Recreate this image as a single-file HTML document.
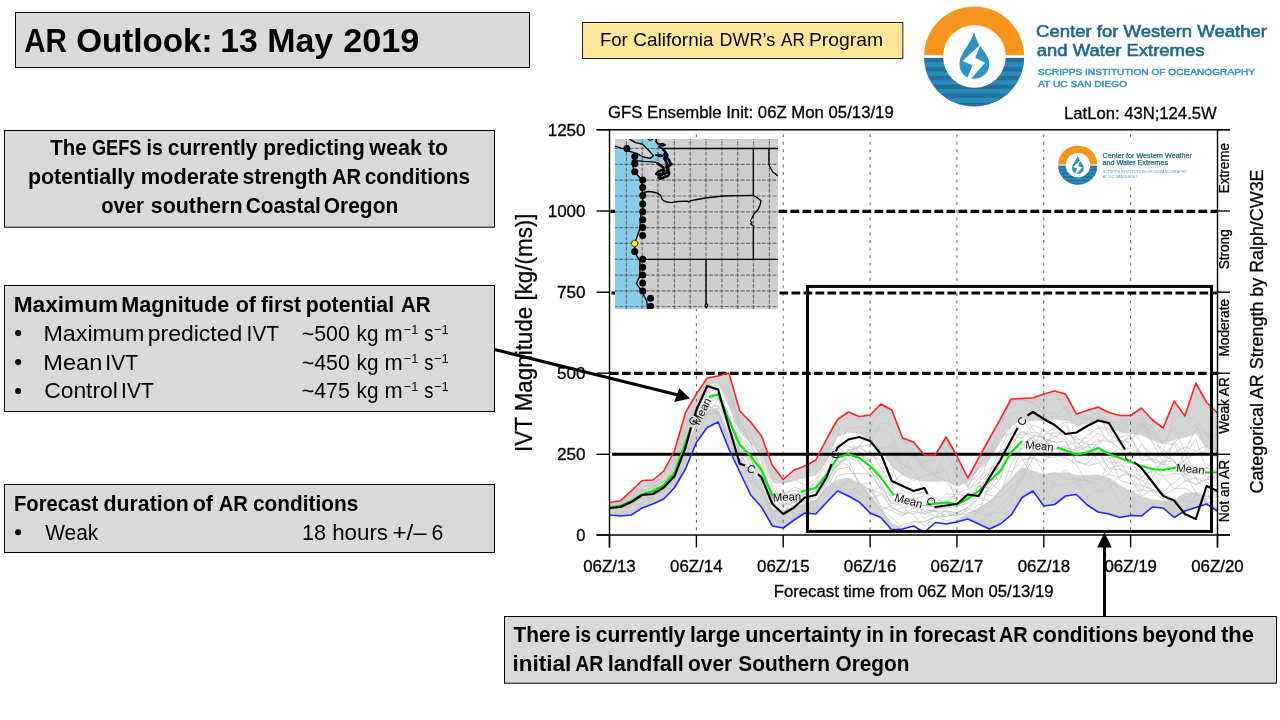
<!DOCTYPE html>
<html><head><meta charset="utf-8"><title>AR Outlook: 13 May 2019</title>
<style>
html,body{margin:0;padding:0;background:#fff;}
body{width:1280px;height:720px;overflow:hidden;font-family:"Liberation Sans",sans-serif;}
svg{display:block;position:absolute;left:0;top:0;will-change:transform;}
text{font-family:"Liberation Sans",sans-serif;}
.b{font-weight:bold;}
.box{fill:#d9d9d9;stroke:#000;stroke-width:1;}
</style></head><body>
<svg width="1280" height="720" viewBox="0 0 1280 720">
<rect width="1280" height="720" fill="#fff"/>

<!-- ======== slide boxes ======== -->
<rect class="box" x="15.5" y="12.5" width="514" height="55"/>
<text x="24.22" y="51.90" font-size="33.2" font-weight="bold" textLength="42.81" lengthAdjust="spacingAndGlyphs">AR</text><text x="76.21" y="51.90" font-size="33.2" font-weight="bold" textLength="136.39" lengthAdjust="spacingAndGlyphs">Outlook:</text><text x="220.29" y="51.90" font-size="33.2" font-weight="bold" textLength="37.57" lengthAdjust="spacingAndGlyphs">13</text><text x="267.17" y="51.90" font-size="33.2" font-weight="bold" textLength="66.09" lengthAdjust="spacingAndGlyphs">May</text><text x="343.21" y="51.90" font-size="33.2" font-weight="bold" textLength="76.08" lengthAdjust="spacingAndGlyphs">2019</text>
<rect x="582.5" y="22.5" width="320.3" height="36" fill="#ffe699" stroke="#222" stroke-width="1"/>
<text x="599.90" y="46.40" font-size="17.9" textLength="27.86" lengthAdjust="spacingAndGlyphs">For</text><text x="633.24" y="46.40" font-size="17.9" textLength="80.26" lengthAdjust="spacingAndGlyphs">California</text><text x="719.44" y="46.40" font-size="17.9" textLength="55.84" lengthAdjust="spacingAndGlyphs">DWR’s</text><text x="780.99" y="46.40" font-size="17.9" textLength="23.80" lengthAdjust="spacingAndGlyphs">AR</text><text x="808.94" y="46.40" font-size="17.9" textLength="74.11" lengthAdjust="spacingAndGlyphs">Program</text>
<rect class="box" x="4.5" y="130.5" width="490" height="96.7"/>
<text x="50.25" y="155.40" font-size="21.3" font-weight="bold" textLength="36.27" lengthAdjust="spacingAndGlyphs">The</text><text x="91.98" y="155.40" font-size="21.3" font-weight="bold" textLength="49.29" lengthAdjust="spacingAndGlyphs">GEFS</text><text x="146.59" y="155.40" font-size="21.3" font-weight="bold" textLength="16.25" lengthAdjust="spacingAndGlyphs">is</text><text x="167.74" y="155.40" font-size="21.3" font-weight="bold" textLength="89.76" lengthAdjust="spacingAndGlyphs">currently</text><text x="263.21" y="155.40" font-size="21.3" font-weight="bold" textLength="101.58" lengthAdjust="spacingAndGlyphs">predicting</text><text x="369.25" y="155.40" font-size="21.3" font-weight="bold" textLength="52.75" lengthAdjust="spacingAndGlyphs">weak</text><text x="427.99" y="155.40" font-size="21.3" font-weight="bold" textLength="20.05" lengthAdjust="spacingAndGlyphs">to</text><text x="27.98" y="184.30" font-size="21.3" font-weight="bold" textLength="107.02" lengthAdjust="spacingAndGlyphs">potentially</text><text x="140.72" y="184.30" font-size="21.3" font-weight="bold" textLength="98.05" lengthAdjust="spacingAndGlyphs">moderate</text><text x="242.48" y="184.30" font-size="21.3" font-weight="bold" textLength="85.05" lengthAdjust="spacingAndGlyphs">strength</text><text x="331.98" y="184.30" font-size="21.3" font-weight="bold" textLength="29.04" lengthAdjust="spacingAndGlyphs">AR</text><text x="364.73" y="184.30" font-size="21.3" font-weight="bold" textLength="105.28" lengthAdjust="spacingAndGlyphs">conditions</text><text x="101.23" y="213.10" font-size="21.3" font-weight="bold" textLength="42.78" lengthAdjust="spacingAndGlyphs">over</text><text x="150.73" y="213.10" font-size="21.3" font-weight="bold" textLength="91.80" lengthAdjust="spacingAndGlyphs">southern</text><text x="245.73" y="213.10" font-size="21.3" font-weight="bold" textLength="75.07" lengthAdjust="spacingAndGlyphs">Coastal</text><text x="323.72" y="213.10" font-size="21.3" font-weight="bold" textLength="74.57" lengthAdjust="spacingAndGlyphs">Oregon</text>
<rect class="box" x="4.5" y="285.5" width="490" height="126"/>
<text x="13.71" y="311.60" font-size="21.3" font-weight="bold" textLength="104.58" lengthAdjust="spacingAndGlyphs">Maximum</text><text x="121.22" y="311.60" font-size="21.3" font-weight="bold" textLength="108.04" lengthAdjust="spacingAndGlyphs">Magnitude</text><text x="235.72" y="311.60" font-size="21.3" font-weight="bold" textLength="20.27" lengthAdjust="spacingAndGlyphs">of</text><text x="260.99" y="311.60" font-size="21.3" font-weight="bold" textLength="40.01" lengthAdjust="spacingAndGlyphs">first</text><text x="305.71" y="311.60" font-size="21.3" font-weight="bold" textLength="88.33" lengthAdjust="spacingAndGlyphs">potential</text><text x="400.98" y="311.60" font-size="21.3" font-weight="bold" textLength="29.79" lengthAdjust="spacingAndGlyphs">AR</text><circle cx="18.15" cy="333.10" r="3.05" fill="#000"/><text x="43.43" y="340.50" font-size="21.3" textLength="100.87" lengthAdjust="spacingAndGlyphs">Maximum</text><text x="147.71" y="340.50" font-size="21.3" textLength="94.59" lengthAdjust="spacingAndGlyphs">predicted</text><text x="246.60" y="340.50" font-size="21.3" textLength="32.43" lengthAdjust="spacingAndGlyphs">IVT</text><circle cx="18.15" cy="362.10" r="3.05" fill="#000"/><text x="43.38" y="369.50" font-size="21.3" textLength="58.97" lengthAdjust="spacingAndGlyphs">Mean</text><text x="105.36" y="369.50" font-size="21.3" textLength="32.68" lengthAdjust="spacingAndGlyphs">IVT</text><circle cx="18.15" cy="391.00" r="3.05" fill="#000"/><text x="44.21" y="398.40" font-size="21.3" textLength="73.60" lengthAdjust="spacingAndGlyphs">Control</text><text x="121.11" y="398.40" font-size="21.3" textLength="32.68" lengthAdjust="spacingAndGlyphs">IVT</text><text x="301.72" y="340.50" font-size="21.3" textLength="48.06" lengthAdjust="spacingAndGlyphs">~500</text><text x="356.56" y="340.50" font-size="21.3" textLength="21.88" lengthAdjust="spacingAndGlyphs">kg</text><text x="384.53" y="340.50" font-size="21.3" textLength="18.19" lengthAdjust="spacingAndGlyphs">m</text><text x="403.70" y="333.50" font-size="13.0" textLength="14.61" lengthAdjust="spacingAndGlyphs">−1</text><text x="424.16" y="340.50" font-size="21.3" textLength="9.20" lengthAdjust="spacingAndGlyphs">s</text><text x="433.94" y="333.50" font-size="13.0" textLength="14.85" lengthAdjust="spacingAndGlyphs">−1</text><text x="301.72" y="369.50" font-size="21.3" textLength="48.06" lengthAdjust="spacingAndGlyphs">~450</text><text x="356.56" y="369.50" font-size="21.3" textLength="21.88" lengthAdjust="spacingAndGlyphs">kg</text><text x="384.53" y="369.50" font-size="21.3" textLength="18.19" lengthAdjust="spacingAndGlyphs">m</text><text x="403.70" y="362.50" font-size="13.0" textLength="14.61" lengthAdjust="spacingAndGlyphs">−1</text><text x="424.16" y="369.50" font-size="21.3" textLength="9.20" lengthAdjust="spacingAndGlyphs">s</text><text x="433.94" y="362.50" font-size="13.0" textLength="14.85" lengthAdjust="spacingAndGlyphs">−1</text><text x="301.72" y="398.40" font-size="21.3" textLength="48.06" lengthAdjust="spacingAndGlyphs">~475</text><text x="356.56" y="398.40" font-size="21.3" textLength="21.88" lengthAdjust="spacingAndGlyphs">kg</text><text x="384.53" y="398.40" font-size="21.3" textLength="18.19" lengthAdjust="spacingAndGlyphs">m</text><text x="403.70" y="391.40" font-size="13.0" textLength="14.61" lengthAdjust="spacingAndGlyphs">−1</text><text x="424.16" y="398.40" font-size="21.3" textLength="9.20" lengthAdjust="spacingAndGlyphs">s</text><text x="433.94" y="391.40" font-size="13.0" textLength="14.85" lengthAdjust="spacingAndGlyphs">−1</text>
<rect class="box" x="4.5" y="484.5" width="490" height="68"/>
<text x="13.98" y="510.70" font-size="21.3" font-weight="bold" textLength="84.28" lengthAdjust="spacingAndGlyphs">Forecast</text><text x="103.48" y="510.70" font-size="21.3" font-weight="bold" textLength="85.31" lengthAdjust="spacingAndGlyphs">duration</text><text x="192.72" y="510.70" font-size="21.3" font-weight="bold" textLength="20.27" lengthAdjust="spacingAndGlyphs">of</text><text x="218.73" y="510.70" font-size="21.3" font-weight="bold" textLength="29.29" lengthAdjust="spacingAndGlyphs">AR</text><text x="252.99" y="510.70" font-size="21.3" font-weight="bold" textLength="105.27" lengthAdjust="spacingAndGlyphs">conditions</text><circle cx="18.15" cy="532.20" r="3.05" fill="#000"/><text x="45.25" y="539.60" font-size="21.3" textLength="53.00" lengthAdjust="spacingAndGlyphs">Weak</text><text x="302.06" y="539.60" font-size="21.3" textLength="24.05" lengthAdjust="spacingAndGlyphs">18</text><text x="332.19" y="539.60" font-size="21.3" textLength="55.84" lengthAdjust="spacingAndGlyphs">hours</text><text x="392.46" y="539.60" font-size="21.3" textLength="34.29" lengthAdjust="spacingAndGlyphs">+/–</text><text x="431.56" y="539.60" font-size="21.3" textLength="11.82" lengthAdjust="spacingAndGlyphs">6</text>
<rect class="box" x="504.5" y="616.5" width="772" height="66.7"/>
<text x="513.50" y="641.60" font-size="21.5" font-weight="bold" textLength="56.76" lengthAdjust="spacingAndGlyphs">There</text><text x="575.33" y="641.60" font-size="21.5" font-weight="bold" textLength="15.76" lengthAdjust="spacingAndGlyphs">is</text><text x="595.74" y="641.60" font-size="21.5" font-weight="bold" textLength="89.76" lengthAdjust="spacingAndGlyphs">currently</text><text x="689.93" y="641.60" font-size="21.5" font-weight="bold" textLength="50.35" lengthAdjust="spacingAndGlyphs">large</text><text x="745.23" y="641.60" font-size="21.5" font-weight="bold" textLength="116.02" lengthAdjust="spacingAndGlyphs">uncertainty</text><text x="866.32" y="641.60" font-size="21.5" font-weight="bold" textLength="17.60" lengthAdjust="spacingAndGlyphs">in</text><text x="889.02" y="641.60" font-size="21.5" font-weight="bold" textLength="18.91" lengthAdjust="spacingAndGlyphs">in</text><text x="913.75" y="641.60" font-size="21.5" font-weight="bold" textLength="81.76" lengthAdjust="spacingAndGlyphs">forecast</text><text x="998.98" y="641.60" font-size="21.5" font-weight="bold" textLength="28.79" lengthAdjust="spacingAndGlyphs">AR</text><text x="1032.49" y="641.60" font-size="21.5" font-weight="bold" textLength="105.77" lengthAdjust="spacingAndGlyphs">conditions</text><text x="1142.20" y="641.60" font-size="21.5" font-weight="bold" textLength="74.36" lengthAdjust="spacingAndGlyphs">beyond</text><text x="1220.99" y="641.60" font-size="21.5" font-weight="bold" textLength="33.03" lengthAdjust="spacingAndGlyphs">the</text><text x="512.41" y="671.00" font-size="21.5" font-weight="bold" textLength="58.94" lengthAdjust="spacingAndGlyphs">initial</text><text x="575.23" y="671.00" font-size="21.5" font-weight="bold" textLength="28.29" lengthAdjust="spacingAndGlyphs">AR</text><text x="607.69" y="671.00" font-size="21.5" font-weight="bold" textLength="76.13" lengthAdjust="spacingAndGlyphs">landfall</text><text x="687.98" y="671.00" font-size="21.5" font-weight="bold" textLength="44.27" lengthAdjust="spacingAndGlyphs">over</text><text x="738.23" y="671.00" font-size="21.5" font-weight="bold" textLength="91.80" lengthAdjust="spacingAndGlyphs">Southern</text><text x="835.48" y="671.00" font-size="21.5" font-weight="bold" textLength="74.06" lengthAdjust="spacingAndGlyphs">Oregon</text>

<!-- ======== big logo ======== -->
<g><clipPath id="ca"><circle cx="974.10" cy="56.50" r="50.10"/></clipPath><g clip-path="url(#ca)"><rect x="924.00" y="6.40" width="100.20" height="48.75" fill="#f7941e"/><rect x="924.00" y="57.90" width="100.20" height="50.10" fill="#21719c"/><rect x="924.00" y="62.36" width="100.20" height="4.46" fill="#2b8cbd"/><rect x="924.00" y="71.28" width="100.20" height="4.46" fill="#2b8cbd"/><rect x="924.00" y="80.20" width="100.20" height="4.46" fill="#2b8cbd"/><rect x="924.00" y="89.12" width="100.20" height="4.46" fill="#2b8cbd"/><rect x="924.00" y="98.03" width="100.20" height="4.46" fill="#2b8cbd"/></g><circle cx="974.40" cy="56.50" r="31.36" fill="#fff"/><path d="M974.02 31.61 C972.26 39.93 965.54 47.94 961.37 55.94 C956.57 65.54 961.05 78.67 974.02 78.67 C986.99 78.67 992.27 66.34 987.47 56.74 C983.78 49.54 978.66 44.74 976.74 39.93 C975.46 36.73 974.82 34.33 974.02 31.61 Z" fill="#2e93c6"/><path d="M980.90 44.10 L962.66 61.06 L972.58 65.22 L967.46 77.71 L970.98 78.67 L985.06 62.82 L975.14 57.86 Z" fill="#fff"/></g>
<g stroke-width="0.6" fill="#1e6888" stroke="#1e6888">
<text x="1036.00" y="36.90" font-size="17.0" textLength="231.01" lengthAdjust="spacingAndGlyphs">Center for Western Weather</text><text x="1036.74" y="56.10" font-size="17.0" textLength="167.76" lengthAdjust="spacingAndGlyphs">and Water Extremes</text>
</g>
<g stroke-width="0.5" fill="#3b95c0" stroke="#3b95c0">
<text x="1037.75" y="75.00" font-size="9.0" textLength="217.25" lengthAdjust="spacingAndGlyphs">SCRIPPS INSTITUTION OF OCEANOGRAPHY</text><text x="1038.00" y="87.30" font-size="9.0" textLength="89.25" lengthAdjust="spacingAndGlyphs">AT UC SAN DIEGO</text>
</g>

<!-- ======== chart ======== -->
<g stroke="#000" stroke-width="0.3">
<text x="607.99" y="118.40" font-size="16.4" textLength="285.76" lengthAdjust="spacingAndGlyphs">GFS Ensemble Init: 06Z Mon 05/13/19</text><text x="1063.99" y="118.60" font-size="16.4" textLength="152.77" lengthAdjust="spacingAndGlyphs">LatLon: 43N;124.5W</text><text x="576.18" y="541.00" font-size="17.0" textLength="9.15" lengthAdjust="spacingAndGlyphs">0</text><text x="556.96" y="460.30" font-size="17.0" textLength="28.58" lengthAdjust="spacingAndGlyphs">250</text><text x="556.96" y="379.20" font-size="17.0" textLength="28.58" lengthAdjust="spacingAndGlyphs">500</text><text x="556.94" y="298.20" font-size="17.0" textLength="28.59" lengthAdjust="spacingAndGlyphs">750</text><text x="547.68" y="217.00" font-size="17.0" textLength="37.85" lengthAdjust="spacingAndGlyphs">1000</text><text x="547.68" y="135.70" font-size="17.0" textLength="37.85" lengthAdjust="spacingAndGlyphs">1250</text><text x="583.23" y="572.10" font-size="16.4" textLength="52.54" lengthAdjust="spacingAndGlyphs">06Z/13</text><text x="670.02" y="572.10" font-size="16.4" textLength="52.53" lengthAdjust="spacingAndGlyphs">06Z/14</text><text x="757.05" y="572.10" font-size="16.4" textLength="52.53" lengthAdjust="spacingAndGlyphs">06Z/15</text><text x="843.83" y="572.10" font-size="16.4" textLength="52.54" lengthAdjust="spacingAndGlyphs">06Z/16</text><text x="930.62" y="572.10" font-size="16.4" textLength="52.80" lengthAdjust="spacingAndGlyphs">06Z/17</text><text x="1017.66" y="572.10" font-size="16.4" textLength="52.53" lengthAdjust="spacingAndGlyphs">06Z/18</text><text x="1104.44" y="572.10" font-size="16.4" textLength="52.54" lengthAdjust="spacingAndGlyphs">06Z/19</text><text x="1191.23" y="572.10" font-size="16.4" textLength="52.53" lengthAdjust="spacingAndGlyphs">06Z/20</text><text x="773.74" y="596.70" font-size="16.4" textLength="279.76" lengthAdjust="spacingAndGlyphs">Forecast time from 06Z Mon 05/13/19</text>
<text transform="translate(531.60,450.00) rotate(-90)" x="-2.03" y="0" font-size="24.0" textLength="238.55" lengthAdjust="spacingAndGlyphs">IVT Magnitude [kg/(ms)]</text><text transform="translate(1263.00,492.50) rotate(-90)" x="-1.01" y="0" font-size="18.6" textLength="324.01" lengthAdjust="spacingAndGlyphs">Categorical AR Strength by Ralph/CW3E</text><text transform="translate(1229.10,192.20) rotate(-90)" x="-1.03" y="0" font-size="14.0" textLength="50.30" lengthAdjust="spacingAndGlyphs">Extreme</text><text transform="translate(1229.10,268.80) rotate(-90)" x="-0.53" y="0" font-size="14.0" textLength="40.06" lengthAdjust="spacingAndGlyphs">Strong</text><text transform="translate(1229.10,355.50) rotate(-90)" x="-1.03" y="0" font-size="14.0" textLength="57.54" lengthAdjust="spacingAndGlyphs">Moderate</text><text transform="translate(1229.10,433.75) rotate(-90)" x="0.00" y="0" font-size="14.0" textLength="56.51" lengthAdjust="spacingAndGlyphs">Weak AR</text><text transform="translate(1229.10,521.25) rotate(-90)" x="-1.03" y="0" font-size="14.0" textLength="62.55" lengthAdjust="spacingAndGlyphs">Not an AR</text>
</g>

<!-- spread shading -->
<polygon points="609.5,502.5 620.4,500.8 631.2,491.0 642.1,480.5 652.9,480.0 663.8,471.0 674.6,450.5 685.5,412.5 696.4,394.0 707.2,378.0 718.1,376.0 728.9,373.0 739.8,411.0 750.6,422.0 761.5,436.0 772.4,465.5 783.2,479.5 794.1,470.0 804.9,466.0 815.8,460.0 826.6,439.0 837.5,419.5 848.4,412.0 859.2,416.5 870.1,415.0 880.9,404.0 891.8,410.0 902.6,438.0 913.5,442.0 924.4,455.0 935.2,455.0 946.1,437.0 956.9,456.0 967.8,478.0 978.6,458.2 989.5,438.5 1000.4,418.8 1011.2,399.0 1022.1,398.5 1032.9,398.0 1043.8,394.0 1054.6,391.0 1065.5,394.0 1076.4,414.0 1087.2,410.5 1098.1,407.0 1108.9,412.5 1119.8,415.5 1130.6,415.5 1141.5,408.0 1152.4,420.0 1163.2,428.0 1174.1,401.0 1184.9,416.0 1195.8,383.0 1206.6,402.5 1217.5,413.0 1217.5,511.0 1206.6,504.0 1195.8,507.5 1184.9,511.0 1174.1,517.5 1163.2,508.0 1152.4,507.0 1141.5,516.0 1130.6,515.5 1119.8,517.5 1108.9,514.0 1098.1,512.0 1087.2,505.0 1076.4,494.5 1065.5,496.0 1054.6,504.5 1043.8,506.0 1032.9,491.0 1022.1,497.5 1011.2,515.0 1000.4,524.0 989.5,529.0 978.6,524.0 967.8,519.0 956.9,522.0 946.1,524.0 935.2,522.5 924.4,532.5 913.5,526.0 902.6,529.0 891.8,530.0 880.9,517.5 870.1,513.0 859.2,502.0 848.4,496.0 837.5,491.0 826.6,502.5 815.8,514.0 804.9,513.0 794.1,520.0 783.2,528.0 772.4,526.0 761.5,507.0 750.6,495.0 739.8,472.0 728.9,449.0 718.1,422.0 707.2,427.5 696.4,442.5 685.5,469.0 674.6,487.5 663.8,499.0 652.9,504.0 642.1,508.0 631.2,515.0 620.4,516.0 609.5,515.0" fill="#d3d3d3"/>
<polygon points="609.5,506.5 620.4,504.8 631.2,499.5 642.1,492.0 652.9,488.5 663.8,482.0 674.6,468.0 685.5,435.5 696.4,404.0 707.2,386.0 718.1,381.5 728.9,407.0 739.8,432.0 750.6,443.0 761.5,457.0 772.4,483.0 783.2,484.0 794.1,481.0 804.9,478.0 815.8,475.5 826.6,462.0 837.5,437.0 848.4,432.7 859.2,433.7 870.1,441.0 880.9,451.5 891.8,467.0 902.6,475.5 913.5,479.6 924.4,481.7 935.2,481.7 946.1,481.0 956.9,487.0 967.8,482.5 978.6,470.0 989.5,460.0 1000.4,442.5 1011.2,426.0 1022.1,419.0 1032.9,420.5 1043.8,421.0 1054.6,419.0 1065.5,420.0 1076.4,425.0 1087.2,424.0 1098.1,421.0 1108.9,426.0 1119.8,432.5 1130.6,434.0 1141.5,435.5 1152.4,440.5 1163.2,444.0 1174.1,440.0 1184.9,437.5 1195.8,434.0 1206.6,447.5 1217.5,452.5 1217.5,507.5 1206.6,500.0 1195.8,492.5 1184.9,492.5 1174.1,500.0 1163.2,500.5 1152.4,499.5 1141.5,496.0 1130.6,490.5 1119.8,485.0 1108.9,477.5 1098.1,474.5 1087.2,475.0 1076.4,475.0 1065.5,472.5 1054.6,472.5 1043.8,474.0 1032.9,470.5 1022.1,467.5 1011.2,477.5 1000.4,490.0 989.5,501.0 978.6,507.5 967.8,514.0 956.9,520.0 946.1,523.0 935.2,521.5 924.4,531.0 913.5,525.0 902.6,528.0 891.8,523.0 880.9,508.7 870.1,494.0 859.2,482.7 848.4,477.5 837.5,479.6 826.6,487.0 815.8,500.5 804.9,503.0 794.1,506.0 783.2,510.0 772.4,509.0 761.5,483.0 750.6,469.0 739.8,458.0 728.9,433.0 718.1,407.5 707.2,410.0 696.4,424.0 685.5,449.5 674.6,477.0 663.8,488.0 652.9,493.5 642.1,496.0 631.2,502.5 620.4,507.2 609.5,508.5" fill="#fff"/>
<g fill="none" stroke="#c6c6c6" stroke-width="0.75" stroke-linejoin="round">
<polyline points="609.5,506.9 620.4,508.5 631.2,505.4 642.1,498.2 652.9,493.5 663.8,492.5 674.6,481.3 685.5,461.4 696.4,423.4 707.2,402.4 718.1,406.0 728.9,420.5 739.8,437.9 750.6,450.9 761.5,467.1 772.4,502.7 783.2,511.8 794.1,501.2 804.9,499.8 815.8,497.3 826.6,481.3 837.5,465.0 848.4,450.3 859.2,446.1 870.1,432.7 880.9,429.0 891.8,435.3 902.6,464.1 913.5,470.8 924.4,490.3 935.2,504.3 946.1,493.6 956.9,494.8 967.8,496.4 978.6,491.1 989.5,495.3 1000.4,497.3 1011.2,486.7 1022.1,479.2 1032.9,457.9 1043.8,463.7 1054.6,447.8 1065.5,456.1 1076.4,448.5 1087.2,442.4 1098.1,461.6 1108.9,474.6 1119.8,456.9 1130.6,460.9 1141.5,443.9 1152.4,454.2 1163.2,465.1 1174.1,442.3 1184.9,433.7 1195.8,423.8 1206.6,449.8 1217.5,454.3"/>
<polyline points="609.5,514.5 620.4,512.5 631.2,511.7 642.1,501.7 652.9,496.7 663.8,491.6 674.6,474.5 685.5,449.5 696.4,414.7 707.2,403.9 718.1,398.2 728.9,427.1 739.8,453.3 750.6,454.4 761.5,465.5 772.4,500.0 783.2,496.2 794.1,500.1 804.9,497.3 815.8,489.1 826.6,474.7 837.5,466.3 848.4,448.8 859.2,462.3 870.1,475.8 880.9,476.1 891.8,497.8 902.6,507.2 913.5,515.3 924.4,526.3 935.2,516.2 946.1,520.8 956.9,518.2 967.8,517.2 978.6,522.5 989.5,513.5 1000.4,512.5 1011.2,500.8 1022.1,472.9 1032.9,482.6 1043.8,504.2 1054.6,481.3 1065.5,469.5 1076.4,480.7 1087.2,497.0 1098.1,489.8 1108.9,480.5 1119.8,504.8 1130.6,492.0 1141.5,489.9 1152.4,491.7 1163.2,499.0 1174.1,516.0 1184.9,509.7 1195.8,495.4 1206.6,496.2 1217.5,490.4"/>
<polyline points="609.5,507.4 620.4,508.6 631.2,505.3 642.1,495.8 652.9,489.2 663.8,482.3 674.6,472.8 685.5,436.4 696.4,418.1 707.2,413.5 718.1,412.8 728.9,440.5 739.8,471.2 750.6,493.8 761.5,505.9 772.4,525.1 783.2,527.1 794.1,519.2 804.9,509.2 815.8,501.0 826.6,487.3 837.5,469.2 848.4,467.2 859.2,481.3 870.1,499.1 880.9,510.0 891.8,505.3 902.6,503.9 913.5,498.1 924.4,514.7 935.2,508.4 946.1,508.3 956.9,506.3 967.8,503.5 978.6,486.1 989.5,488.0 1000.4,471.4 1011.2,440.9 1022.1,421.4 1032.9,420.1 1043.8,420.2 1054.6,418.7 1065.5,420.3 1076.4,448.4 1087.2,450.2 1098.1,445.5 1108.9,454.7 1119.8,480.4 1130.6,483.5 1141.5,485.5 1152.4,490.1 1163.2,493.1 1174.1,505.6 1184.9,498.2 1195.8,492.9 1206.6,499.1 1217.5,496.6"/>
<polyline points="609.5,506.7 620.4,504.7 631.2,495.0 642.1,488.3 652.9,482.7 663.8,477.5 674.6,456.1 685.5,419.2 696.4,401.8 707.2,383.2 718.1,382.5 728.9,391.1 739.8,419.9 750.6,443.0 761.5,469.7 772.4,497.5 783.2,494.4 794.1,493.9 804.9,493.3 815.8,481.0 826.6,463.6 837.5,449.7 848.4,438.1 859.2,453.7 870.1,460.7 880.9,486.0 891.8,503.4 902.6,501.8 913.5,498.1 924.4,496.3 935.2,504.0 946.1,499.9 956.9,504.6 967.8,500.4 978.6,485.3 989.5,456.3 1000.4,425.3 1011.2,400.6 1022.1,399.8 1032.9,402.2 1043.8,412.9 1054.6,413.1 1065.5,425.6 1076.4,443.6 1087.2,441.6 1098.1,433.1 1108.9,439.9 1119.8,448.6 1130.6,440.2 1141.5,424.8 1152.4,442.6 1163.2,461.6 1174.1,470.4 1184.9,454.1 1195.8,472.8 1206.6,467.9 1217.5,471.5"/>
<polyline points="609.5,508.5 620.4,505.0 631.2,500.6 642.1,495.2 652.9,493.6 663.8,483.7 674.6,468.9 685.5,433.3 696.4,406.2 707.2,388.0 718.1,383.0 728.9,397.3 739.8,442.9 750.6,458.9 761.5,484.0 772.4,517.0 783.2,516.9 794.1,506.2 804.9,506.5 815.8,508.4 826.6,496.2 837.5,475.3 848.4,473.7 859.2,473.5 870.1,474.2 880.9,488.4 891.8,495.6 902.6,492.3 913.5,508.5 924.4,505.3 935.2,504.3 946.1,511.4 956.9,512.7 967.8,507.2 978.6,498.1 989.5,500.9 1000.4,492.5 1011.2,464.2 1022.1,445.0 1032.9,437.2 1043.8,445.5 1054.6,441.4 1065.5,453.6 1076.4,447.1 1087.2,434.7 1098.1,428.2 1108.9,430.2 1119.8,444.1 1130.6,435.1 1141.5,421.7 1152.4,427.3 1163.2,444.0 1174.1,426.8 1184.9,451.8 1195.8,427.5 1206.6,433.1 1217.5,453.7"/>
<polyline points="609.5,507.6 620.4,504.7 631.2,501.9 642.1,491.4 652.9,491.1 663.8,484.8 674.6,464.8 685.5,436.4 696.4,411.0 707.2,391.2 718.1,384.3 728.9,387.4 739.8,424.1 750.6,434.3 761.5,459.6 772.4,486.1 783.2,503.7 794.1,505.7 804.9,499.7 815.8,500.7 826.6,481.7 837.5,461.8 848.4,459.4 859.2,456.1 870.1,468.7 880.9,490.1 891.8,510.3 902.6,507.9 913.5,506.0 924.4,518.9 935.2,508.7 946.1,501.6 956.9,504.4 967.8,496.8 978.6,491.0 989.5,473.6 1000.4,456.9 1011.2,432.6 1022.1,438.6 1032.9,425.0 1043.8,429.9 1054.6,436.9 1065.5,430.3 1076.4,440.1 1087.2,437.5 1098.1,426.6 1108.9,442.5 1119.8,440.0 1130.6,442.6 1141.5,425.9 1152.4,431.5 1163.2,455.9 1174.1,459.9 1184.9,480.3 1195.8,484.0 1206.6,479.3 1217.5,474.6"/>
<polyline points="609.5,505.0 620.4,502.6 631.2,498.9 642.1,494.1 652.9,493.2 663.8,485.1 674.6,474.6 685.5,447.2 696.4,414.2 707.2,403.3 718.1,392.1 728.9,420.9 739.8,441.3 750.6,455.3 761.5,473.6 772.4,496.2 783.2,498.5 794.1,497.2 804.9,494.7 815.8,491.4 826.6,482.9 837.5,467.6 848.4,453.6 859.2,446.8 870.1,444.6 880.9,422.7 891.8,424.8 902.6,439.8 913.5,457.3 924.4,462.2 935.2,458.2 946.1,439.0 956.9,470.0 967.8,487.7 978.6,463.7 989.5,454.0 1000.4,420.3 1011.2,400.6 1022.1,399.8 1032.9,402.7 1043.8,395.6 1054.6,393.1 1065.5,410.0 1076.4,416.0 1087.2,419.4 1098.1,412.8 1108.9,434.5 1119.8,441.5 1130.6,438.1 1141.5,453.9 1152.4,461.1 1163.2,451.3 1174.1,416.6 1184.9,417.6 1195.8,419.2 1206.6,435.4 1217.5,437.4"/>
<polyline points="609.5,514.3 620.4,514.3 631.2,512.3 642.1,504.7 652.9,503.5 663.8,498.5 674.6,487.0 685.5,461.7 696.4,425.3 707.2,404.8 718.1,411.9 728.9,446.1 739.8,459.6 750.6,480.9 761.5,489.8 772.4,518.7 783.2,522.6 794.1,516.0 804.9,511.2 815.8,510.3 826.6,501.7 837.5,487.5 848.4,479.9 859.2,493.4 870.1,499.1 880.9,494.4 891.8,507.7 902.6,512.7 913.5,513.4 924.4,511.8 935.2,511.5 946.1,500.7 956.9,493.0 967.8,492.9 978.6,478.0 989.5,468.3 1000.4,466.8 1011.2,450.2 1022.1,444.2 1032.9,436.0 1043.8,437.1 1054.6,455.6 1065.5,447.3 1076.4,450.9 1087.2,446.5 1098.1,439.4 1108.9,453.5 1119.8,449.8 1130.6,448.5 1141.5,453.0 1152.4,458.9 1163.2,463.2 1174.1,473.8 1184.9,474.4 1195.8,492.2 1206.6,496.0 1217.5,503.6"/>
<polyline points="609.5,506.7 620.4,505.2 631.2,501.9 642.1,494.2 652.9,491.5 663.8,485.8 674.6,474.3 685.5,434.9 696.4,407.9 707.2,389.8 718.1,384.7 728.9,385.6 739.8,436.5 750.6,447.1 761.5,460.7 772.4,498.6 783.2,506.1 794.1,511.7 804.9,510.3 815.8,511.6 826.6,501.7 837.5,490.0 848.4,481.6 859.2,483.6 870.1,491.5 880.9,486.9 891.8,503.6 902.6,501.1 913.5,506.7 924.4,510.5 935.2,516.6 946.1,516.6 956.9,513.5 967.8,515.3 978.6,504.3 989.5,506.9 1000.4,489.9 1011.2,475.0 1022.1,447.5 1032.9,437.3 1043.8,449.5 1054.6,428.0 1065.5,437.9 1076.4,447.6 1087.2,446.7 1098.1,451.5 1108.9,468.2 1119.8,465.5 1130.6,467.5 1141.5,477.8 1152.4,470.4 1163.2,476.2 1174.1,488.7 1184.9,488.2 1195.8,494.8 1206.6,497.0 1217.5,494.0"/>
<polyline points="609.5,503.0 620.4,503.0 631.2,492.5 642.1,484.3 652.9,483.8 663.8,472.5 674.6,459.9 685.5,427.0 696.4,400.0 707.2,385.0 718.1,386.5 728.9,392.9 739.8,426.4 750.6,442.9 761.5,470.1 772.4,493.6 783.2,496.1 794.1,495.6 804.9,495.0 815.8,486.1 826.6,473.3 837.5,446.7 848.4,427.9 859.2,427.0 870.1,427.9 880.9,406.3 891.8,412.5 902.6,439.8 913.5,443.8 924.4,456.5 935.2,456.5 946.1,439.0 956.9,457.5 967.8,486.5 978.6,465.6 989.5,448.2 1000.4,437.7 1011.2,432.7 1022.1,435.1 1032.9,432.2 1043.8,434.0 1054.6,432.9 1065.5,433.3 1076.4,437.2 1087.2,444.8 1098.1,444.3 1108.9,433.7 1119.8,428.1 1130.6,423.9 1141.5,443.2 1152.4,461.5 1163.2,464.1 1174.1,452.6 1184.9,446.9 1195.8,451.0 1206.6,445.7 1217.5,459.4"/>
<polyline points="609.5,508.4 620.4,508.5 631.2,503.8 642.1,492.3 652.9,486.3 663.8,482.2 674.6,470.1 685.5,428.6 696.4,403.2 707.2,385.7 718.1,389.6 728.9,414.9 739.8,449.1 750.6,457.1 761.5,479.2 772.4,502.7 783.2,496.9 794.1,499.8 804.9,495.6 815.8,490.3 826.6,471.3 837.5,460.6 848.4,465.7 859.2,484.3 870.1,483.4 880.9,507.7 891.8,528.9 902.6,525.2 913.5,521.7 924.4,521.9 935.2,516.4 946.1,510.0 956.9,513.1 967.8,507.7 978.6,493.9 989.5,490.9 1000.4,478.7 1011.2,445.6 1022.1,430.5 1032.9,441.0 1043.8,456.6 1054.6,457.5 1065.5,447.7 1076.4,454.4 1087.2,459.6 1098.1,440.8 1108.9,441.2 1119.8,432.1 1130.6,425.3 1141.5,417.0 1152.4,442.8 1163.2,449.2 1174.1,461.7 1184.9,477.4 1195.8,484.9 1206.6,479.5 1217.5,478.3"/>
<polyline points="609.5,505.5 620.4,505.1 631.2,498.9 642.1,489.5 652.9,488.7 663.8,481.0 674.6,469.1 685.5,446.6 696.4,413.7 707.2,393.9 718.1,395.3 728.9,429.2 739.8,450.3 750.6,460.7 761.5,473.3 772.4,492.0 783.2,496.6 794.1,493.5 804.9,501.9 815.8,502.5 826.6,488.0 837.5,486.1 848.4,494.7 859.2,492.5 870.1,488.2 880.9,506.4 891.8,510.8 902.6,516.2 913.5,507.1 924.4,505.7 935.2,506.8 946.1,507.9 956.9,503.5 967.8,498.5 978.6,485.7 989.5,480.7 1000.4,477.4 1011.2,442.4 1022.1,431.7 1032.9,435.8 1043.8,436.0 1054.6,426.5 1065.5,422.1 1076.4,424.4 1087.2,427.1 1098.1,416.3 1108.9,422.3 1119.8,422.4 1130.6,424.5 1141.5,422.7 1152.4,435.5 1163.2,443.5 1174.1,444.0 1184.9,463.8 1195.8,468.4 1206.6,470.8 1217.5,480.0"/>
<polyline points="609.5,507.4 620.4,507.1 631.2,502.8 642.1,498.4 652.9,492.4 663.8,493.5 674.6,484.3 685.5,468.2 696.4,436.5 707.2,413.5 718.1,412.9 728.9,442.7 739.8,461.1 750.6,472.3 761.5,475.5 772.4,512.4 783.2,520.7 794.1,515.9 804.9,509.3 815.8,507.5 826.6,483.7 837.5,458.9 848.4,455.0 859.2,457.8 870.1,461.8 880.9,475.2 891.8,468.2 902.6,490.6 913.5,494.4 924.4,492.2 935.2,497.7 946.1,503.8 956.9,492.8 967.8,489.3 978.6,482.6 989.5,471.5 1000.4,450.9 1011.2,446.6 1022.1,458.0 1032.9,478.0 1043.8,475.5 1054.6,472.6 1065.5,479.5 1076.4,478.9 1087.2,480.6 1098.1,484.9 1108.9,462.3 1119.8,462.1 1130.6,477.9 1141.5,496.1 1152.4,489.4 1163.2,491.4 1174.1,482.8 1184.9,474.2 1195.8,470.7 1206.6,476.6 1217.5,477.0"/>
<polyline points="609.5,503.0 620.4,502.3 631.2,495.1 642.1,491.1 652.9,487.8 663.8,487.7 674.6,473.0 685.5,441.0 696.4,412.3 707.2,407.5 718.1,406.2 728.9,425.4 739.8,455.5 750.6,466.0 761.5,476.5 772.4,491.0 783.2,494.6 794.1,487.2 804.9,490.3 815.8,484.0 826.6,474.4 837.5,447.1 848.4,454.8 859.2,445.2 870.1,455.7 880.9,448.1 891.8,446.3 902.6,470.0 913.5,452.6 924.4,469.6 935.2,475.1 946.1,482.0 956.9,494.1 967.8,495.3 978.6,483.2 989.5,480.5 1000.4,469.1 1011.2,471.8 1022.1,460.2 1032.9,457.4 1043.8,443.5 1054.6,436.1 1065.5,439.8 1076.4,462.3 1087.2,463.9 1098.1,451.0 1108.9,469.0 1119.8,469.5 1130.6,474.2 1141.5,491.5 1152.4,471.4 1163.2,464.2 1174.1,469.7 1184.9,459.1 1195.8,453.8 1206.6,451.1 1217.5,441.4"/>
<polyline points="609.5,506.9 620.4,504.7 631.2,500.9 642.1,491.5 652.9,490.8 663.8,485.2 674.6,476.5 685.5,445.3 696.4,426.1 707.2,414.7 718.1,412.9 728.9,431.2 739.8,451.2 750.6,475.4 761.5,491.7 772.4,509.2 783.2,514.1 794.1,518.8 804.9,512.3 815.8,513.2 826.6,501.7 837.5,490.0 848.4,494.7 859.2,483.9 870.1,490.0 880.9,493.0 891.8,501.1 902.6,500.3 913.5,499.5 924.4,509.6 935.2,510.6 946.1,511.7 956.9,516.3 967.8,509.8 978.6,498.3 989.5,472.3 1000.4,449.8 1011.2,426.2 1022.1,418.4 1032.9,434.2 1043.8,438.2 1054.6,442.6 1065.5,441.2 1076.4,461.2 1087.2,465.5 1098.1,463.5 1108.9,458.5 1119.8,455.5 1130.6,460.4 1141.5,477.4 1152.4,469.3 1163.2,461.3 1174.1,461.5 1184.9,474.0 1195.8,479.0 1206.6,491.0 1217.5,492.5"/>
<polyline points="609.5,508.4 620.4,507.7 631.2,507.1 642.1,502.6 652.9,498.3 663.8,488.6 674.6,471.2 685.5,440.2 696.4,404.8 707.2,391.4 718.1,389.7 728.9,421.7 739.8,438.7 750.6,465.4 761.5,473.1 772.4,502.8 783.2,506.3 794.1,502.1 804.9,501.6 815.8,493.0 826.6,473.8 837.5,456.0 848.4,459.7 859.2,484.0 870.1,489.7 880.9,510.3 891.8,517.5 902.6,527.6 913.5,523.1 924.4,521.5 935.2,517.9 946.1,514.2 956.9,515.7 967.8,512.6 978.6,511.1 989.5,485.5 1000.4,462.7 1011.2,446.3 1022.1,448.6 1032.9,445.9 1043.8,443.2 1054.6,449.6 1065.5,446.2 1076.4,441.5 1087.2,451.5 1098.1,451.2 1108.9,452.7 1119.8,468.8 1130.6,475.2 1141.5,479.2 1152.4,491.3 1163.2,493.8 1174.1,508.8 1184.9,500.7 1195.8,501.2 1206.6,493.1 1217.5,506.4"/>
<polyline points="609.5,509.7 620.4,508.0 631.2,502.7 642.1,494.8 652.9,491.6 663.8,488.1 674.6,472.8 685.5,441.7 696.4,411.9 707.2,399.5 718.1,395.9 728.9,415.0 739.8,428.7 750.6,437.8 761.5,449.6 772.4,478.1 783.2,482.3 794.1,479.6 804.9,485.1 815.8,478.7 826.6,459.1 837.5,444.0 848.4,446.0 859.2,450.9 870.1,471.1 880.9,481.2 891.8,507.0 902.6,514.2 913.5,511.4 924.4,513.6 935.2,510.8 946.1,516.6 956.9,512.7 967.8,508.7 978.6,513.2 989.5,516.0 1000.4,506.4 1011.2,494.0 1022.1,479.5 1032.9,447.9 1043.8,427.4 1054.6,418.0 1065.5,406.8 1076.4,427.3 1087.2,417.8 1098.1,426.3 1108.9,428.5 1119.8,436.9 1130.6,435.3 1141.5,460.4 1152.4,459.3 1163.2,475.8 1174.1,473.6 1184.9,459.7 1195.8,478.5 1206.6,482.6 1217.5,486.3"/>
<polyline points="609.5,506.2 620.4,504.1 631.2,500.2 642.1,496.5 652.9,489.8 663.8,487.4 674.6,477.1 685.5,447.4 696.4,417.2 707.2,408.8 718.1,412.3 728.9,440.7 739.8,453.9 750.6,458.8 761.5,481.8 772.4,498.4 783.2,504.5 794.1,501.2 804.9,502.1 815.8,493.9 826.6,473.6 837.5,465.1 848.4,456.3 859.2,463.9 870.1,450.4 880.9,467.8 891.8,485.3 902.6,472.5 913.5,481.0 924.4,475.8 935.2,473.3 946.1,470.8 956.9,504.5 967.8,498.8 978.6,486.0 989.5,483.2 1000.4,490.4 1011.2,481.0 1022.1,466.8 1032.9,454.3 1043.8,473.0 1054.6,484.0 1065.5,486.1 1076.4,480.7 1087.2,480.1 1098.1,492.2 1108.9,488.4 1119.8,475.7 1130.6,473.8 1141.5,481.0 1152.4,477.6 1163.2,459.6 1174.1,441.3 1184.9,455.4 1195.8,439.5 1206.6,469.4 1217.5,450.9"/>
<polyline points="609.5,507.0 620.4,507.2 631.2,500.7 642.1,498.7 652.9,497.0 663.8,488.8 674.6,479.4 685.5,457.1 696.4,426.1 707.2,414.2 718.1,399.3 728.9,414.0 739.8,451.6 750.6,463.6 761.5,469.3 772.4,497.9 783.2,493.2 794.1,490.5 804.9,493.2 815.8,489.2 826.6,473.0 837.5,459.1 848.4,450.7 859.2,447.6 870.1,454.8 880.9,461.0 891.8,453.9 902.6,464.7 913.5,468.7 924.4,463.0 935.2,475.9 946.1,450.6 956.9,477.0 967.8,484.5 978.6,473.8 989.5,459.0 1000.4,435.8 1011.2,413.7 1022.1,411.1 1032.9,429.5 1043.8,438.0 1054.6,455.4 1065.5,457.6 1076.4,464.3 1087.2,483.9 1098.1,478.9 1108.9,474.5 1119.8,477.6 1130.6,468.5 1141.5,485.3 1152.4,489.1 1163.2,495.3 1174.1,489.2 1184.9,481.2 1195.8,477.3 1206.6,479.6 1217.5,467.2"/>
</g>

<!-- vertical dotted gridlines -->
<g stroke="#606060" stroke-width="1.0" stroke-dasharray="3.0,4.56" stroke-dashoffset="4.4" fill="none"><line x1="696.4" y1="131" x2="696.4" y2="534"/><line x1="783.2" y1="131" x2="783.2" y2="534"/><line x1="870.1" y1="131" x2="870.1" y2="534"/><line x1="956.9" y1="131" x2="956.9" y2="534"/><line x1="1043.8" y1="131" x2="1043.8" y2="534"/><line x1="1130.6" y1="131" x2="1130.6" y2="534"/></g>

<!-- AR category lines -->
<g stroke="#000" stroke-width="3.2" stroke-dasharray="8.7,3.3" fill="none">
<line x1="610" y1="373.4" x2="1217" y2="373.4"/>
<line x1="611.5" y1="293" x2="1217" y2="293"/>
<line x1="610.5" y1="211.3" x2="1217" y2="211.3"/>
</g>
<line x1="612" y1="454.3" x2="1217" y2="454.3" stroke="#000" stroke-width="3"/>

<!-- min / max -->
<polyline points="609.5,502.5 620.4,500.8 631.2,491.0 642.1,480.5 652.9,480.0 663.8,471.0 674.6,450.5 685.5,412.5 696.4,394.0 707.2,378.0 718.1,376.0 728.9,373.0 739.8,411.0 750.6,422.0 761.5,436.0 772.4,465.5 783.2,479.5 794.1,470.0 804.9,466.0 815.8,460.0 826.6,439.0 837.5,419.5 848.4,412.0 859.2,416.5 870.1,415.0 880.9,404.0 891.8,410.0 902.6,438.0 913.5,442.0 924.4,455.0 935.2,455.0 946.1,437.0 956.9,456.0 967.8,478.0 978.6,458.2 989.5,438.5 1000.4,418.8 1011.2,399.0 1022.1,398.5 1032.9,398.0 1043.8,394.0 1054.6,391.0 1065.5,394.0 1076.4,414.0 1087.2,410.5 1098.1,407.0 1108.9,412.5 1119.8,415.5 1130.6,415.5 1141.5,408.0 1152.4,420.0 1163.2,428.0 1174.1,401.0 1184.9,416.0 1195.8,383.0 1206.6,402.5 1217.5,413.0" fill="none" stroke="#ff2020" stroke-width="1.6" stroke-linejoin="round"/>
<polyline points="609.5,515.0 620.4,516.0 631.2,515.0 642.1,508.0 652.9,504.0 663.8,499.0 674.6,487.5 685.5,469.0 696.4,442.5 707.2,427.5 718.1,422.0 728.9,449.0 739.8,472.0 750.6,495.0 761.5,507.0 772.4,526.0 783.2,528.0 794.1,520.0 804.9,513.0 815.8,514.0 826.6,502.5 837.5,491.0 848.4,496.0 859.2,502.0 870.1,513.0 880.9,517.5 891.8,530.0 902.6,529.0 913.5,526.0 924.4,532.5 935.2,522.5 946.1,524.0 956.9,522.0 967.8,519.0 978.6,524.0 989.5,529.0 1000.4,524.0 1011.2,515.0 1022.1,497.5 1032.9,491.0 1043.8,506.0 1054.6,504.5 1065.5,496.0 1076.4,494.5 1087.2,505.0 1098.1,512.0 1108.9,514.0 1119.8,517.5 1130.6,515.5 1141.5,516.0 1152.4,507.0 1163.2,508.0 1174.1,517.5 1184.9,511.0 1195.8,507.5 1206.6,504.0 1217.5,511.0" fill="none" stroke="#2424ff" stroke-width="1.6" stroke-linejoin="round"/>
<!-- mean -->
<g fill="none" stroke="#00ea00" stroke-width="2.05" stroke-linejoin="round">
<polyline points="609.5,507.5 620.4,506.0 631.2,501.0 642.1,494.0 652.9,491.0 663.8,485.0 674.6,472.5 685.5,442.5 691.0,427.5"/>
<polyline points="709.0,397.0 718.1,394.5 728.9,420.0 739.8,445.0 750.6,456.0 761.5,470.0 772.4,496.0"/>
<polyline points="801.0,492.0 804.9,490.5 815.8,488.0 826.6,475.0 837.5,457.5 848.4,454.0 859.2,458.0 870.1,466.0 880.9,477.5 891.8,492.5 894.0,495.0"/>
<polyline points="926.0,504.5 946.1,502.5 956.9,504.5 967.8,499.0 978.6,491.0 989.5,481.0 1000.4,471.0 1011.2,452.5 1022.1,441.0"/>
<polyline points="1057.0,447.5 1065.5,450.5 1076.4,454.5 1087.2,452.5 1098.1,448.0 1108.9,454.0 1119.8,458.0 1130.6,462.0 1141.5,466.0 1152.4,469.0 1163.2,470.0 1176.0,467.5"/>
<polyline points="1205.0,472.5 1217.5,472.5"/>
</g>
<!-- control -->
<g fill="none" stroke="#000" stroke-width="2.15" stroke-linejoin="round">
<polyline points="609.5,508.0 620.4,507.0 631.2,502.0 642.1,495.0 652.9,494.0 663.8,487.5 674.6,476.0 685.5,447.5 691.0,427.5"/>
<polyline points="694.5,416.0 696.4,410.0 707.2,386.0 718.1,389.5 728.9,427.0 739.8,463.7 745.0,465.5"/>
<polyline points="758.0,474.0 761.5,477.5 772.4,504.0 783.2,514.0 794.1,507.5 804.9,497.5 815.8,495.0 826.6,477.5 831.5,464.0"/>
<polyline points="836.0,451.0 837.5,447.5 848.4,439.5 859.2,437.0 870.1,441.0 880.9,454.0 891.8,481.0 902.6,486.0 913.5,491.0 924.4,488.0 927.5,494.0"/>
<polyline points="935.5,507.5 935.2,507.0 946.1,505.5 956.9,504.0 967.8,494.5 978.6,496.0 989.5,477.5 1000.4,460.0 1011.2,440.0 1017.5,428.0"/>
<polyline points="1027.5,415.5 1032.9,412.0 1043.8,419.0 1054.6,425.0 1065.5,434.0 1076.4,432.5 1087.2,426.0 1098.1,420.5 1108.9,423.0 1119.8,441.0 1125.0,449.5"/>
<polyline points="1134.0,462.0 1141.5,468.0 1152.4,482.0 1163.2,496.0 1174.1,500.5 1184.9,514.0 1195.8,519.0 1206.6,486.0 1217.5,491.0"/>
</g>
<!-- line labels -->
<g font-size="11.3" text-anchor="middle" fill="#111">
<text transform="translate(701.7,411.2) rotate(-64)" y="4">Mean</text><text transform="translate(787.0,496.8) rotate(-3)" y="4">Mean</text><text transform="translate(908.8,500.5) rotate(15)" y="4">Mean</text><text transform="translate(1039.5,445.8) rotate(5)" y="4">Mean</text><text transform="translate(1190.5,468.8) rotate(5)" y="4">Mean</text><text transform="translate(693.1,421.2) rotate(-64)" y="4">C</text><text transform="translate(751.2,468.8) rotate(20)" y="4">C</text><text transform="translate(835.0,454.5) rotate(-65)" y="4">C</text><text transform="translate(931.2,501.2) rotate(55)" y="4">C</text><text transform="translate(1021.8,421.2) rotate(-60)" y="4">C</text><text transform="translate(1128.8,456.2) rotate(55)" y="4">C</text>
</g>

<!-- map inset -->
<g>
<clipPath id="mapclip"><rect x="615" y="139" width="163" height="170"/></clipPath>
<g clip-path="url(#mapclip)">
<rect x="615" y="139" width="163" height="170" fill="#cfcfcf"/>
<polygon points="615.0,146.1 621.1,148.1 626.7,149.2 630.6,151.7 636.7,153.3 643.3,157.0 650.6,158.3 653.3,155.6 647.8,149.4 642.2,144.1 635.6,142.6 629.4,139.2 656.3,139.2 656.0,141.9 658.1,144.0 662.2,143.9 662.2,146.1 665.6,148.6 665.6,157.2 662.2,162.2 657.3,162.8 643.3,161.4 632.2,160.3 632.8,163.9 633.9,171.7 638.3,176.1 641.7,179.4 642.2,187.2 642.8,195.0 642.8,215.0 639.9,228.9 636.4,238.6 634.3,243.5 635.7,253.9 639.9,260.8 639.9,276.1 636.4,283.1 639.9,288.6 643.3,294.2 646.8,301.1 647.5,309.4 615.0,309.0 615.0,146.1" fill="#87ceeb"/>
<polygon points="647.8,139.2 649.4,140.6 651.7,140.1 653.1,139.2" fill="#cfcfcf" stroke="#000" stroke-width="0.8"/>
<g stroke="#6c6c6c" stroke-width="1.15" stroke-dasharray="3.9,1.383" fill="none"><g stroke-dashoffset="3.0"><line x1="626.4" y1="139" x2="626.4" y2="309"/><line x1="642.2" y1="139" x2="642.2" y2="309"/><line x1="658.0" y1="139" x2="658.0" y2="309"/><line x1="674.4" y1="139" x2="674.4" y2="309"/><line x1="690.2" y1="139" x2="690.2" y2="309"/><line x1="706.0" y1="139" x2="706.0" y2="309"/><line x1="721.9" y1="139" x2="721.9" y2="309"/><line x1="737.7" y1="139" x2="737.7" y2="309"/><line x1="753.5" y1="139" x2="753.5" y2="309"/><line x1="769.4" y1="139" x2="769.4" y2="309"/></g><g stroke-dashoffset="1.1"><line x1="615" y1="148.5" x2="778" y2="148.5"/><line x1="615" y1="164.3" x2="778" y2="164.3"/><line x1="615" y1="180.1" x2="778" y2="180.1"/><line x1="615" y1="196.0" x2="778" y2="196.0"/><line x1="615" y1="211.8" x2="778" y2="211.8"/><line x1="615" y1="227.6" x2="778" y2="227.6"/><line x1="615" y1="243.4" x2="778" y2="243.4"/><line x1="615" y1="259.3" x2="778" y2="259.3"/><line x1="615" y1="275.1" x2="778" y2="275.1"/><line x1="615" y1="290.9" x2="778" y2="290.9"/><line x1="615" y1="306.5" x2="778" y2="306.5"/></g></g>
<g fill="none" stroke="#000" stroke-width="1.35" stroke-linejoin="round">
<polyline points="632.2,160.3 632.8,163.9 633.9,171.7 638.3,176.1 641.7,179.4 642.2,187.2 642.8,195.0 642.8,215.0"/>
<polyline points="640.8,215.0 639.9,228.9 636.4,238.6 634.3,243.5 635.7,253.9 639.9,260.8 639.9,276.1 636.4,283.1 639.9,288.6 643.3,294.2 646.8,301.1 647.5,309.4"/>
<polyline points="615.0,146.1 621.1,148.1 626.7,149.2 630.6,151.7 636.7,153.3 643.3,157.0 650.6,158.3 653.3,155.6 647.8,149.4 642.2,144.1 635.6,142.6 629.4,139.2"/>
<polyline points="632.2,160.3 643.3,161.4 655.2,162.1 657.3,162.8"/>
<g stroke-width="2.6"><polyline points="662.2,148.5 665.7,152.4 667.4,155.1 666.7,157.9 669.2,160.0 669.9,162.8 671.6,164.2 669.2,165.6 667.8,167.6 668.5,171.1 669.2,173.9 667.8,176.0 665.0,176.7 662.9,178.1 660.1,178.8 658.4,177.7 660.1,176.0 662.2,174.9 660.8,173.9 658.4,174.6 656.3,173.9 658.1,171.8 660.8,170.4 663.6,169.4 663.3,167.3 660.8,165.6 658.8,164.2 657.0,162.6"/><polyline points="664.0,153.1 665.3,155.8 664.3,158.6 666.0,161.4 667.1,164.2 666.4,166.9 667.1,169.7 666.4,172.8 664.3,173.9 662.9,172.5 664.3,169.7"/></g><polygon points="655.6,155.1 658.1,154.4 660.8,154.8 662.9,155.8 660.8,156.7 658.1,156.4 655.6,155.1" fill="#222"/><polyline points="656.3,139.2 656.0,141.9 658.1,144.0 662.9,143.7 665.3,144.9 663.6,145.6 660.1,145.4 658.8,146.8 662.2,148.5" stroke-width="1.6"/>
<polyline points="643.5,192.5 648.0,191.5 652.8,192.0 657.0,193.0 660.7,195.4 662.0,199.0 663.3,200.7 667.0,202.0 671.2,202.6 678.0,201.5 687.0,201.2 688.5,202.0 690.0,200.8 697.0,199.5 705.5,198.0 714.0,197.0 722.7,196.0 738.0,195.6 753.3,195.4"/>
<polyline points="753.3,195.4 757.0,197.5 761.0,200.7 760.0,205.0 758.3,209.2 754.0,214.0 750.4,221.0 752.0,222.5 750.8,224.0 753.8,226.3 753.3,229.7 753.3,259.3"/>
<polyline points="768.9,148.5 768.9,164.3 770.0,167.0 772.8,172.2 775.0,173.5 778.0,176.2"/>
<line x1="662" y1="148.5" x2="778" y2="148.5"/>
<line x1="753.3" y1="148.5" x2="753.3" y2="195.4"/>
<line x1="643" y1="259.3" x2="778" y2="259.3"/>
<line x1="706" y1="259.3" x2="706" y2="303.5"/>
<ellipse cx="706.4" cy="305.6" rx="1.3" ry="1.6" />
</g>
<g fill="#000"><circle cx="626.9" cy="148.5" r="3.5"/><circle cx="634.8" cy="156.4" r="3.5"/><circle cx="634.8" cy="163.8" r="3.5"/><circle cx="634.8" cy="171.7" r="3.5"/><circle cx="642.7" cy="180.1" r="3.5"/><circle cx="642.7" cy="187.5" r="3.5"/><circle cx="642.7" cy="195.4" r="3.5"/><circle cx="642.7" cy="203.9" r="3.5"/><circle cx="642.7" cy="211.8" r="3.5"/><circle cx="642.7" cy="219.7" r="3.5"/><circle cx="642.7" cy="227.6" r="3.5"/><circle cx="642.7" cy="235.5" r="3.5"/><circle cx="634.8" cy="251.4" r="3.5"/><circle cx="642.7" cy="259.3" r="3.5"/><circle cx="642.7" cy="267.2" r="3.5"/><circle cx="642.7" cy="275.1" r="3.5"/><circle cx="642.7" cy="283.0" r="3.5"/><circle cx="642.7" cy="290.9" r="3.5"/><circle cx="650.6" cy="298.3" r="3.5"/><circle cx="650.6" cy="306.2" r="3.5"/></g>
<circle cx="634.7" cy="243.5" r="3.2" fill="#ffff00" stroke="#000" stroke-width="0.7"/>
</g>
</g>

<!-- small logo inside chart -->
<rect x="1054" y="142" width="142" height="44" fill="#fff"/>
<g><clipPath id="cb"><circle cx="1077.80" cy="165.10" r="19.70"/></clipPath><g clip-path="url(#cb)"><rect x="1058.10" y="145.40" width="39.40" height="19.17" fill="#f7941e"/><rect x="1058.10" y="165.65" width="39.40" height="19.70" fill="#21719c"/><rect x="1058.10" y="167.40" width="39.40" height="1.75" fill="#2b8cbd"/><rect x="1058.10" y="170.91" width="39.40" height="1.75" fill="#2b8cbd"/><rect x="1058.10" y="174.42" width="39.40" height="1.75" fill="#2b8cbd"/><rect x="1058.10" y="177.92" width="39.40" height="1.75" fill="#2b8cbd"/><rect x="1058.10" y="181.43" width="39.40" height="1.75" fill="#2b8cbd"/></g><circle cx="1077.92" cy="165.10" r="12.33" fill="#fff"/><path d="M1077.77 155.31 C1077.08 158.59 1074.43 161.73 1072.80 164.88 C1070.91 168.66 1072.67 173.82 1077.77 173.82 C1082.87 173.82 1084.94 168.97 1083.06 165.19 C1081.61 162.36 1079.59 160.47 1078.84 158.59 C1078.33 157.33 1078.08 156.38 1077.77 155.31 Z" fill="#2e93c6"/><path d="M1080.47 160.22 L1073.30 166.89 L1077.20 168.53 L1075.19 173.44 L1076.57 173.82 L1082.11 167.59 L1078.21 165.63 Z" fill="#fff"/></g>
<g stroke-width="0.25" fill="#1e6888" stroke="#1e6888">
<text x="1102.5" y="157.6" font-size="6.9" textLength="89.5" lengthAdjust="spacingAndGlyphs">Center for Western Weather</text>
<text x="1102.5" y="165.1" font-size="6.9" textLength="65.5" lengthAdjust="spacingAndGlyphs">and Water Extremes</text>
</g>
<g fill="#4a9fc8">
<text x="1102.8" y="173.0" font-size="3.6" textLength="84.5" lengthAdjust="spacingAndGlyphs">SCRIPPS INSTITUTION OF OCEANOGRAPHY</text>
<text x="1102.8" y="177.9" font-size="3.6" textLength="34.5" lengthAdjust="spacingAndGlyphs">AT UC SAN DIEGO</text>
</g>

<!-- axes -->
<g stroke="#000" stroke-width="1.4" fill="none">
<line x1="609.5" y1="129.7" x2="609.5" y2="547.5"/>
<line x1="1217.5" y1="129.7" x2="1217.5" y2="547.5"/>
<line x1="596.5" y1="129.7" x2="1230" y2="129.7"/>
<line x1="596.5" y1="535" x2="1230" y2="535"/>
<line x1="609.5" y1="535" x2="609.5" y2="547.5"/><line x1="696.4" y1="535" x2="696.4" y2="547.5"/><line x1="783.2" y1="535" x2="783.2" y2="547.5"/><line x1="870.1" y1="535" x2="870.1" y2="547.5"/><line x1="956.9" y1="535" x2="956.9" y2="547.5"/><line x1="1043.8" y1="535" x2="1043.8" y2="547.5"/><line x1="1130.6" y1="535" x2="1130.6" y2="547.5"/><line x1="1217.5" y1="535" x2="1217.5" y2="547.5"/><line x1="596.5" y1="535.0" x2="609.5" y2="535.0"/><line x1="596.5" y1="454.3" x2="609.5" y2="454.3"/><line x1="596.5" y1="373.2" x2="609.5" y2="373.2"/><line x1="596.5" y1="292.2" x2="609.5" y2="292.2"/><line x1="596.5" y1="211.0" x2="609.5" y2="211.0"/><line x1="596.5" y1="129.7" x2="609.5" y2="129.7"/><line x1="1217.5" y1="535.0" x2="1230" y2="535.0"/><line x1="1217.5" y1="454.3" x2="1230" y2="454.3"/><line x1="1217.5" y1="373.2" x2="1230" y2="373.2"/><line x1="1217.5" y1="292.2" x2="1230" y2="292.2"/><line x1="1217.5" y1="211.0" x2="1230" y2="211.0"/><line x1="1217.5" y1="129.7" x2="1230" y2="129.7"/>
</g>

<!-- annotation rectangle + arrows -->
<rect x="807.5" y="286.4" width="404" height="245" fill="none" stroke="#000" stroke-width="3"/>
<line x1="494.5" y1="349.5" x2="678" y2="395" stroke="#000" stroke-width="3"/>
<polygon points="690,398.5 674.2,402 679.3,388.3" fill="#000"/>
<line x1="1104.5" y1="616" x2="1104.5" y2="546" stroke="#000" stroke-width="3"/>
<polygon points="1104.5,532.5 1111.8,547.5 1097.2,547.5" fill="#000"/>
</svg>
</body></html>
